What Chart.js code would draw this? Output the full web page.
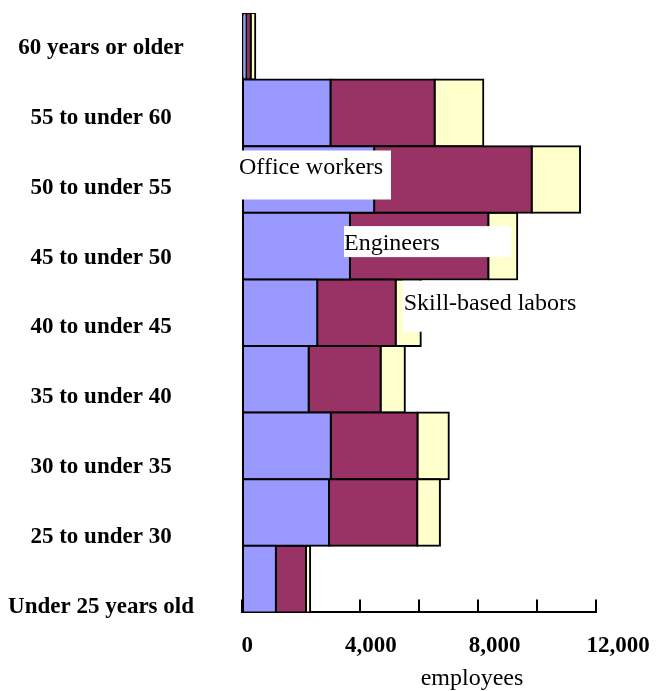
<!DOCTYPE html>
<html>
<head>
<meta charset="utf-8">
<script src="https://cdn.jsdelivr.net/npm/chart.js@4/dist/chart.umd.min.js"></script>
<style>
  html, body { margin: 0; padding: 0; background: #fff; }
  #wrap { width: 658px; height: 691px; }
</style>
</head>
<body>
<div id="wrap"><canvas id="chart"></canvas></div>
<script>
// age bands, top row first
const ageGroups = [
  "60 years or older",
  "55 to under 60",
  "50 to under 55",
  "45 to under 50",
  "40 to under 45",
  "35 to under 40",
  "30 to under 35",
  "25 to under 30",
  "Under 25 years old",
];
const seriesNames = ["Office workers", "Engineers", "Skill-based labors"];
const officeWorkers = [140, 3000, 4480, 3660, 2550, 2260, 3010, 2950, 1150];
const engineers = [155, 3530, 5340, 4690, 2660, 2440, 2940, 2990, 1020];
const skilledLabors = [155, 1650, 1640, 980, 850, 820, 1060, 770, 140];
const xTicks = [0, 4000, 8000, 12000];

Chart.defaults.font.family = "'Liberation Serif', 'Times New Roman', serif";
Chart.defaults.color = "#000";

const tickFont = { size: 23, weight: "bold" };
const tagFont = "24px 'Liberation Serif', 'Times New Roman', serif";

// white boxes naming each series, anchored to the start of one of its segments
const seriesTags = [
  { dataset: 0, index: 2, dx: -5, top: -29, bottom: 20, baseline: -6, width: 153, textDx: 1 },
  { dataset: 1, index: 3, dx: -6, top: -20, bottom: 11, baseline: 4, width: 167, textDx: 0 },
  { dataset: 2, index: 4, dx: 7, top: -32, bottom: 19, baseline: -3, width: 185, textDx: 1 },
];

const tagPlugin = {
  id: "tags",
  afterDatasetsDraw(chart) {
    const ctx = chart.ctx;
    ctx.save();
    ctx.font = tagFont;
    ctx.textBaseline = "alphabetic";
    ctx.textAlign = "left";
    seriesTags.forEach((t) => {
      const bar = chart.getDatasetMeta(t.dataset).data[t.index];
      const left = Math.min(bar.base, bar.x) + t.dx;
      ctx.fillStyle = "#fff";
      ctx.fillRect(left, bar.y + t.top, t.width, t.bottom - t.top);
      ctx.fillStyle = "#000";
      ctx.fillText(seriesNames[t.dataset], left + t.textDx, bar.y + t.baseline);
    });
    ctx.restore();
  },
  afterDraw(chart) {
    // axis title, sitting right of centre under the tick labels
    const xl = chart.scales.xl;
    const ctx = chart.ctx;
    ctx.save();
    ctx.font = tagFont;
    ctx.fillStyle = "#000";
    ctx.textAlign = "center";
    ctx.textBaseline = "alphabetic";
    ctx.fillText("employees", (xl.left + xl.right) / 2 + 53, xl.top + 73);
    ctx.restore();
  },
};

const barStyle = {
  borderColor: "#000",
  borderWidth: 2,
  borderSkipped: false,
  inflateAmount: 1,
  xAxisID: "x",
  yAxisID: "y",
};

new Chart(document.getElementById("chart"), {
  type: "bar",
  data: {
    labels: ageGroups,
    datasets: [
      { label: seriesNames[0], data: officeWorkers, backgroundColor: "#9999ff", ...barStyle },
      { label: seriesNames[1], data: engineers, backgroundColor: "#993366", ...barStyle },
      { label: seriesNames[2], data: skilledLabors, backgroundColor: "#ffffcc", ...barStyle },
    ],
  },
  options: {
    indexAxis: "y",
    responsive: true,
    maintainAspectRatio: false,
    animation: false,
    layout: { padding: { top: 13, right: 62, bottom: 11, left: 0 } },
    datasets: { bar: { barPercentage: 1, categoryPercentage: 1 } },
    plugins: { legend: { display: false }, tooltip: { enabled: false } },
    scales: {
      x: {
        type: "linear",
        position: "bottom",
        stacked: true,
        min: 0,
        max: 12000,
        weight: 0,
        z: 1,
        ticks: { display: false, stepSize: 2000 },
        // short tick marks pointing up into the plot
        grid: { drawOnChartArea: false, drawTicks: true, tickLength: -13, color: "#000", lineWidth: 2 },
        border: { display: true, color: "#000", width: 2 },
        afterFit: (s) => { s.height = 0; },
      },
      y: { type: "category", stacked: true, display: false },
      // tick labels sit on their own, slightly wider spaced axes
      xl: {
        type: "linear",
        position: "bottom",
        weight: 1,
        offset: false,
        min: -168,
        max: 11281,
        afterBuildTicks: (s) => { s.ticks = xTicks.map((v) => ({ value: v })); },
        ticks: {
          font: tickFont,
          padding: 20,
          autoSkip: false,
          maxRotation: 0,
          callback: (v) => v.toLocaleString("en-US"),
        },
        grid: { display: false, drawTicks: false },
        border: { display: false },
        afterFit: (s) => { s.paddingLeft = 0; s.paddingRight = 0; },
      },
      yl: {
        type: "linear",
        position: "left",
        offset: false,
        min: -0.077,
        max: 8.501,
        afterBuildTicks: (s) => { s.ticks = ageGroups.map((_, i) => ({ value: i })); },
        ticks: {
          font: tickFont,
          crossAlign: "center",
          padding: 48,
          autoSkip: false,
          callback: (v) => ageGroups[ageGroups.length - 1 - v],
        },
        grid: { display: false, offset: false, drawTicks: false },
        border: { display: false },
        afterFit: (s) => { s.width = 242; s.paddingTop = 0; s.paddingBottom = 0; },
      },
    },
  },
  plugins: [tagPlugin],
});
</script>
</body>
</html>
